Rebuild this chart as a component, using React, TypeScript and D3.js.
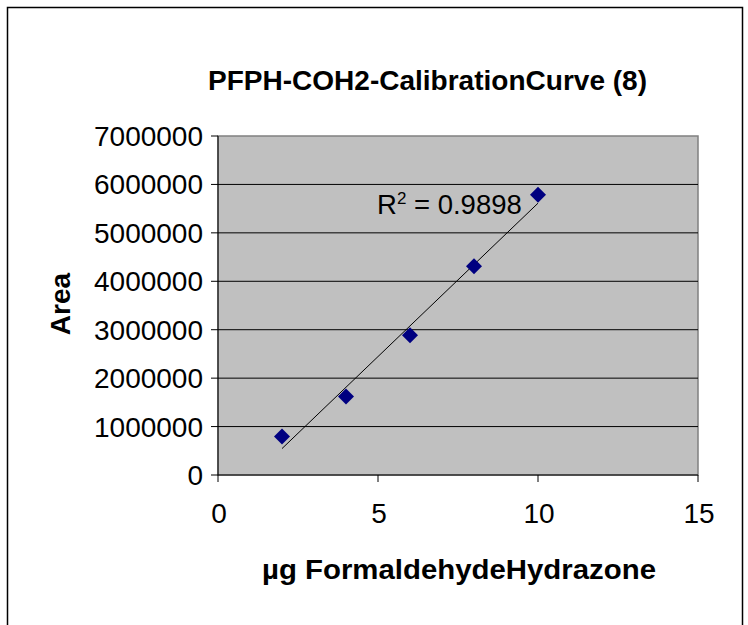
import React from "react";
import * as d3 from "d3";

const xValues = [2, 4, 6, 8, 10];
const areaValues = [794000, 1622000, 2886000, 4308000, 5785000];
const yTicks = [0, 1000000, 2000000, 3000000, 4000000, 5000000, 6000000, 7000000];
const xTicks = [0, 5, 10, 15];
const titleText = "PFPH-COH2-CalibrationCurve (8)";
const xTitle = "µg FormaldehydeHydrazone";
const yTitle = "Area";
const r2Text = "0.9898";

const W = 748;
const H = 625;
const plot = { left: 218, right: 698, top: 136, bottom: 475 };

export default function App() {
  const x = d3.scaleLinear().domain([0, 15]).range([plot.left, plot.right]);
  const y = d3.scaleLinear().domain([0, 7000000]).range([plot.bottom, plot.top]);

  // linear regression
  const mx = d3.mean(xValues) as number;
  const my = d3.mean(areaValues) as number;
  let sxy = 0, sxx = 0;
  xValues.forEach((v, i) => {
    sxy += (v - mx) * (areaValues[i] - my);
    sxx += (v - mx) * (v - mx);
  });
  const slope = sxy / sxx;
  const intercept = my - slope * mx;
  const x0 = d3.min(xValues) as number;
  const x1 = d3.max(xValues) as number;
  const line = d3.line<number>().x((d) => x(d)).y((d) => y(intercept + slope * d));

  const diamond = (cx: number, cy: number, r: number) =>
    `M${cx},${cy - r}L${cx + r},${cy}L${cx},${cy + r}L${cx - r},${cy}Z`;

  const font = "'Liberation Sans', Arial, sans-serif";

  return (
    <svg
      width={W}
      height={H}
      style={{ position: "absolute", left: 0, top: 0, background: "#fff" }}
      fontFamily={font}
    >
      <rect x={7.5} y={7.5} width={735} height={640} fill="#fff" stroke="#000" strokeWidth={1.5} />

      {/* plot area */}
      <rect
        x={plot.left}
        y={plot.top}
        width={plot.right - plot.left}
        height={plot.bottom - plot.top}
        fill="#C0C0C0"
        stroke="#808080"
        strokeWidth={1.5}
      />
      {yTicks.slice(1, -1).map((t) => (
        <line key={"g" + t} x1={plot.left} x2={plot.right} y1={y(t)} y2={y(t)} stroke="#000" strokeWidth={1} />
      ))}

      {/* axes */}
      <line x1={plot.left} x2={plot.left} y1={plot.top} y2={plot.bottom} stroke="#000" strokeWidth={1} />
      <line x1={plot.left} x2={plot.right} y1={plot.bottom} y2={plot.bottom} stroke="#000" strokeWidth={1} />
      {yTicks.map((t) => (
        <g key={"yt" + t}>
          <line x1={plot.left - 7} x2={plot.left} y1={y(t)} y2={y(t)} stroke="#000" />
          <text x={203} y={y(t) + 10} textAnchor="end" fontSize={28} fill="#000">
            {t}
          </text>
        </g>
      ))}
      {xTicks.map((t) => (
        <g key={"xt" + t}>
          <line x1={x(t)} x2={x(t)} y1={plot.bottom} y2={plot.bottom + 7} stroke="#000" />
          <text x={x(t) + 1} y={523} textAnchor="middle" fontSize={28} fill="#000">
            {t}
          </text>
        </g>
      ))}

      {/* trendline */}
      <path d={line([x0, x1]) as string} fill="none" stroke="#000" strokeWidth={1} />

      {/* points */}
      {xValues.map((v, i) => (
        <path key={"p" + i} d={diamond(x(v), y(areaValues[i]), 8)} fill="#000080" />
      ))}

      {/* R2 label */}
      <text x={377} y={214} fontSize={27.5} fill="#000">
        R<tspan dy={-10} fontSize={17}>2</tspan>
        <tspan dy={10}>{" = " + r2Text}</tspan>
      </text>

      {/* titles */}
      <text
        x={208}
        y={90}
        fontSize={27}
        fontWeight="bold"
        fill="#000"
        textLength={439}
        lengthAdjust="spacingAndGlyphs"
      >
        {titleText}
      </text>
      <text
        x={262}
        y={579}
        fontSize={28}
        fontWeight="bold"
        fill="#000"
        textLength={394}
        lengthAdjust="spacingAndGlyphs"
      >
        {xTitle}
      </text>
      <text
        transform={`translate(70,304) rotate(-90)`}
        textAnchor="middle"
        fontSize={28}
        fontWeight="bold"
        fill="#000"
      >
        {yTitle}
      </text>
    </svg>
  );
}
